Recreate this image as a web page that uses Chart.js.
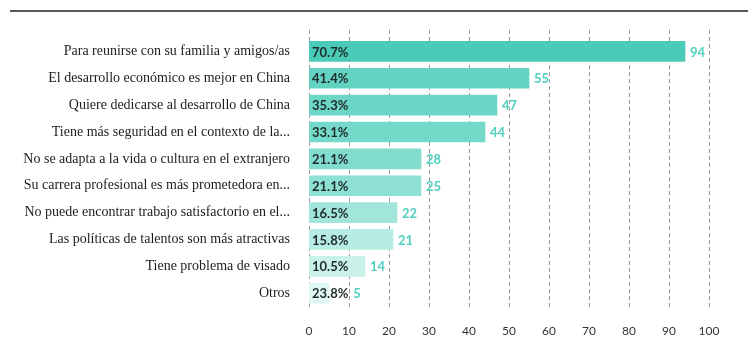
<!DOCTYPE html>
<html>
<head>
<meta charset="utf-8">
<script src="https://cdn.jsdelivr.net/npm/chart.js@4/dist/chart.umd.min.js"></script>
<style>
  html, body { margin: 0; padding: 0; background: #ffffff; }
  #wrap { width: 754px; height: 363px; position: relative; }
</style>
</head>
<body>
<div id="wrap"><canvas id="reasonsChart"></canvas></div>
<script>
// Reasons for returning to China

const categories = [
    'Para reunirse con su familia y amigos/as',
    'El desarrollo económico es mejor en China',
    'Quiere dedicarse al desarrollo de China',
    'Tiene más seguridad en el contexto de la...',
    'No se adapta a la vida o cultura en el extranjero',
    'Su carrera profesional es más prometedora en...',
    'No puede encontrar trabajo satisfactorio en el...',
    'Las políticas de talentos son más atractivas',
    'Tiene problema de visado',
    'Otros'
];
// bar lengths as drawn
const barValues = [94, 55, 47, 44, 28, 28, 22, 21, 14, 5];
// counts printed at the end of the bars
const countLabels = [94, 55, 47, 44, 28, 25, 22, 21, 14, 5];
// percentages printed inside the bars
const percentLabels = ['70.7%', '41.4%', '35.3%', '33.1%', '21.1%', '21.1%', '16.5%', '15.8%', '10.5%', '23.8%'];
const xTicks = [0, 10, 20, 30, 40, 50, 60, 70, 80, 90, 100];

const barColors = ['#4acbb7', '#62d3c1', '#6bd6c5', '#74d9c9', '#80dcce',
                   '#8ee0d4', '#a2e6db', '#b6ece3', '#c9f1ea', '#e0f7f3'];

// dashed vertical grid + top rule
const decorPlugin = {
    id: 'decor',
    beforeDatasetsDraw(chart) {
        const ctx = chart.ctx;
        const x = chart.scales.x;
        ctx.save();
        ctx.strokeStyle = '#9a9a9a';
        ctx.lineWidth = 1;
        ctx.setLineDash([4, 3]);
        xTicks.forEach(v => {
            const px = Math.round(x.getPixelForValue(v)) + 0.5;
            ctx.beginPath();
            ctx.moveTo(px, 30);
            ctx.lineTo(px, 310);
            ctx.stroke();
        });
        ctx.restore();

        ctx.save();
        ctx.strokeStyle = '#222222';
        ctx.lineWidth = 1.5;
        ctx.beginPath();
        ctx.moveTo(10, 11);
        ctx.lineTo(748, 11);
        ctx.stroke();
        ctx.restore();
    }
};

// percentage and count labels
const labelPlugin = {
    id: 'barLabels',
    afterDatasetsDraw(chart) {
        const ctx = chart.ctx;
        const meta = chart.getDatasetMeta(0);
        ctx.save();
        ctx.textBaseline = 'middle';
        meta.data.forEach((bar, i) => {
            const y = bar.y + 1;
            ctx.font = 'bold 13px Lato';
            ctx.fillStyle = '#1f2a2a';
            ctx.textAlign = 'left';
            const pctX = bar.base + 3;
            ctx.fillText(percentLabels[i], pctX, y);
            const pctEnd = pctX + ctx.measureText(percentLabels[i]).width;
            const cx = Math.max(bar.x, pctEnd) + 5;
            ctx.fillStyle = '#4fcfbf';
            ctx.fillText(String(countLabels[i]), cx, y);
        });
        ctx.restore();
    }
};

let reasonsChart;

document.addEventListener('DOMContentLoaded', function() {
    const ctx = document.getElementById('reasonsChart');
    reasonsChart = new Chart(ctx.getContext('2d'), {
        type: 'bar',
        data: {
            labels: categories,
            datasets: [{
                data: barValues,
                backgroundColor: barColors,
                borderWidth: 0,
                barThickness: 20
            }]
        },
        options: {
            indexAxis: 'y',
            responsive: true,
            maintainAspectRatio: false,
            animation: false,
            layout: {
                padding: { top: 38, right: 45, bottom: 8, left: 0 }
            },
            plugins: {
                legend: { display: false },
                tooltip: { enabled: false }
            },
            scales: {
                x: {
                    min: 0,
                    max: 100,
                    afterBuildTicks: s => { s.ticks = xTicks.map(v => ({ value: v })); },
                    grid: { display: false, drawTicks: false },
                    border: { display: false },
                    ticks: {
                        padding: 17,
                        color: '#333333',
                        font: { family: 'Lato', size: 12 }
                    }
                },
                y: {
                    afterFit: s => { s.width = 309; },
                    grid: { display: false, drawTicks: false },
                    border: { display: false },
                    ticks: {
                        padding: 19,
                        color: '#1c1c1c',
                        font: { family: 'Liberation Serif', size: 14 }
                    }
                }
            }
        },
        plugins: [decorPlugin, labelPlugin]
    });
});
</script>
</body>
</html>
